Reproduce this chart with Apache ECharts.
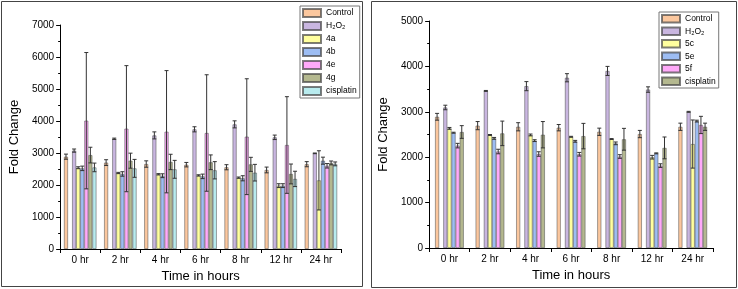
<!DOCTYPE html>
<html>
<head>
<meta charset="utf-8">
<script src="https://cdn.jsdelivr.net/npm/echarts@6/dist/echarts.min.js"></script>
<style>
html, body { margin: 0; padding: 0; background: #fff; }
#left { position: absolute; left: 0; top: 0; width: 369px; height: 289px; }
#right { position: absolute; left: 369px; top: 0; width: 369px; height: 289px; }
</style>
</head>
<body>
<div id="left"></div>
<div id="right"></div>
<script>
var hours = ['0 hr', '2 hr', '4 hr', '6 hr', '8 hr', '12 hr', '24 hr'];

// left panel: compounds 4a-4g
var leftNames = ['Control', 'H₂O₂', '4a', '4b', '4e', '4g', 'cisplatin'];
var ctrlL = [2885, 2700, 2655, 2635, 2555, 2470, 2650];
var ctrlLErr = [80, 90, 100, 70, 80, 90, 80];
var h2o2L = [3075, 3445, 3550, 3740, 3895, 3490, 2990];
var h2o2LErr = [50, 20, 110, 80, 110, 70, 10];
var v4a = [2540, 2375, 2335, 2300, 2230, 1980, 2145];
var v4aErr = [30, 20, 20, 20, 20, 60, 925];
var v4b = [2520, 2345, 2290, 2270, 2210, 1980, 2760];
var v4bErr = [70, 70, 60, 70, 80, 60, 110];
var v4e = [4010, 3760, 3665, 3625, 3510, 3250, 2600];
var v4eErr = [2130, 1970, 1910, 1820, 1810, 1510, 70];
var v4g = [2935, 2760, 2720, 2710, 2645, 2345, 2690];
var v4gErr = [245, 235, 240, 230, 220, 310, 60];
var cisL = [2550, 2520, 2490, 2460, 2385, 2190, 2660];
var cisLErr = [135, 280, 280, 270, 260, 240, 60];

// right panel: compounds 5c-5f
var rightNames = ['Control', 'H₂O₂', '5c', '5e', '5f', 'cisplatin'];
var ctrlR = [2890, 2695, 2670, 2650, 2560, 2510, 2670];
var ctrlRErr = [75, 90, 90, 70, 80, 80, 80];
var h2o2R = [3095, 3460, 3565, 3750, 3900, 3490, 3000];
var h2o2RErr = [50, 10, 100, 90, 100, 60, 10];
var v5c = [2635, 2490, 2490, 2450, 2400, 2000, 2290];
var v5cErr = [20, 10, 20, 10, 10, 40, 530];
var v5e = [2540, 2415, 2365, 2350, 2305, 2085, 2795];
var v5eErr = [10, 20, 20, 20, 30, 10, 20];
var v5f = [2255, 2125, 2070, 2065, 2015, 1815, 2710];
var v5fErr = [50, 50, 50, 40, 40, 40, 190];
var cisR = [2555, 2525, 2495, 2465, 2395, 2205, 2670];
var cisRErr = [140, 270, 290, 280, 240, 240, 80];

var leftColors = ['#FBC79E', '#C9B6E0', '#FFFF9E', '#9DBDF3', '#FFA9F9', '#B4B88F', '#B8EBEE'];
var rightColors = ['#FBC79E', '#C9B6E0', '#FFFF9E', '#9DBDF3', '#FFA9F9', '#B4B88F'];

var FONT = 'Liberation Sans, Arial, sans-serif';

// error bars drawn at the same offset as the bar column
function errRender(col, nCols, gap) {
  return function (params, api) {
    var c = api.value(0), v = api.value(1), e = api.value(2);
    var band = api.size([1, 0])[0];
    var gw = band * (1 - gap);
    var bw = gw / nCols;
    var dx = -gw / 2 + (col + 0.5) * bw;
    var top = api.coord([c, v + e]);
    var bot = api.coord([c, v - e]);
    var x = top[0] + dx;
    var hw = 2;
    var st = { stroke: '#333', lineWidth: 1 };
    return {
      type: 'group',
      children: [
        { type: 'line', shape: { x1: x, y1: top[1], x2: x, y2: bot[1] }, style: st },
        { type: 'line', shape: { x1: x - hw, y1: top[1], x2: x + hw, y2: top[1] }, style: st },
        { type: 'line', shape: { x1: x - hw, y1: bot[1], x2: x + hw, y2: bot[1] }, style: st }
      ]
    };
  };
}

function makeOption(names, colors, vals, errs, cfg) {
  var nCols = names.length + 1; // extra empty column after Control
  var gap = cfg.gap;
  var series = [];
  var errSeries = [];
  names.forEach(function (n, i) {
    var col = i === 0 ? 0 : i + 1;
    series.push({
      name: n,
      type: 'bar',
      data: vals[i],
      barGap: '0%',
      barCategoryGap: (gap * 100) + '%',
      itemStyle: { color: colors[i], borderColor: 'rgba(70,70,70,0.7)', borderWidth: 0.7 }
    });
    if (i === 0) {
      series.push({
        name: '_gap',
        type: 'bar',
        data: hours.map(function () { return null; }),
        barGap: '0%',
        barCategoryGap: (gap * 100) + '%'
      });
    }
    errSeries.push({
      type: 'custom',
      renderItem: errRender(col, nCols, gap),
      data: vals[i].map(function (v, k) { return [k, v, errs[i][k]]; }),
      encode: { x: 0, y: 1 },
      z: 5,
      silent: true
    });
  });
  return {
    animation: false,
    textStyle: { fontFamily: FONT },
    graphic: [{
      type: 'rect',
      shape: cfg.frame,
      style: { fill: 'none', stroke: '#444', lineWidth: 1 },
      silent: true
    }],
    legend: {
      data: names,
      orient: 'vertical',
      left: cfg.legendLeft,
      top: cfg.legendTop,
      icon: 'rect',
      itemWidth: 18,
      itemHeight: cfg.itemH,
      itemGap: 3,
      padding: [2, 3, 2, 2],
      borderColor: '#777',
      borderWidth: 1,
      selectedMode: false,
      textStyle: { fontSize: 8.5, color: '#000', fontFamily: FONT }
    },
    grid: cfg.grid,
    xAxis: {
      type: 'category',
      data: hours,
      axisLine: { lineStyle: { color: '#000', width: 1 } },
      axisTick: { show: true, length: 4, lineStyle: { color: '#000' } },
      axisLabel: { color: '#000', fontSize: 10, margin: 6, fontFamily: FONT },
      name: 'Time in hours',
      nameLocation: 'middle',
      nameGap: 21,
      nameTextStyle: { fontSize: 13, color: '#000', fontFamily: FONT }
    },
    yAxis: {
      type: 'value',
      min: 0,
      max: cfg.max,
      interval: 1000,
      axisLine: { show: true, lineStyle: { color: '#000', width: 1 } },
      axisTick: { show: true, length: 4, lineStyle: { color: '#000' } },
      minorTick: { show: true, splitNumber: 2, length: 2, lineStyle: { color: '#000' } },
      splitLine: { show: false },
      axisLabel: {
        color: '#000', fontSize: 10, margin: 6, fontFamily: FONT,
        formatter: function (v) { return String(v); }
      },
      name: 'Fold Change',
      nameLocation: 'middle',
      nameGap: cfg.nameGap,
      nameTextStyle: { fontSize: 13, color: '#000', fontFamily: FONT }
    },
    series: series.concat(errSeries)
  };
}

var chartL = echarts.init(document.getElementById('left'));
chartL.setOption(makeOption(
  leftNames, leftColors,
  [ctrlL, h2o2L, v4a, v4b, v4e, v4g, cisL],
  [ctrlLErr, h2o2LErr, v4aErr, v4bErr, v4eErr, v4gErr, cisLErr],
  {
    gap: 0.19, max: 7000, nameGap: 28,
    grid: { left: 55, top: 25, width: 286, height: 224 },
    frame: { x: 1.5, y: 1.5, width: 361, height: 285 },
    legendLeft: 300, legendTop: 6, itemH: 8
  }
));

var chartR = echarts.init(document.getElementById('right'));
chartR.setOption(makeOption(
  rightNames, rightColors,
  [ctrlR, h2o2R, v5c, v5e, v5f, cisR],
  [ctrlRErr, h2o2RErr, v5cErr, v5eErr, v5fErr, cisRErr],
  {
    gap: 0.29, max: 5000, nameGap: 30,
    grid: { left: 60, top: 21, width: 284, height: 227 },
    frame: { x: 2.5, y: 1.5, width: 365, height: 286 },
    legendLeft: 290, legendTop: 12, itemH: 7.5
  }
));
</script>
</body>
</html>
